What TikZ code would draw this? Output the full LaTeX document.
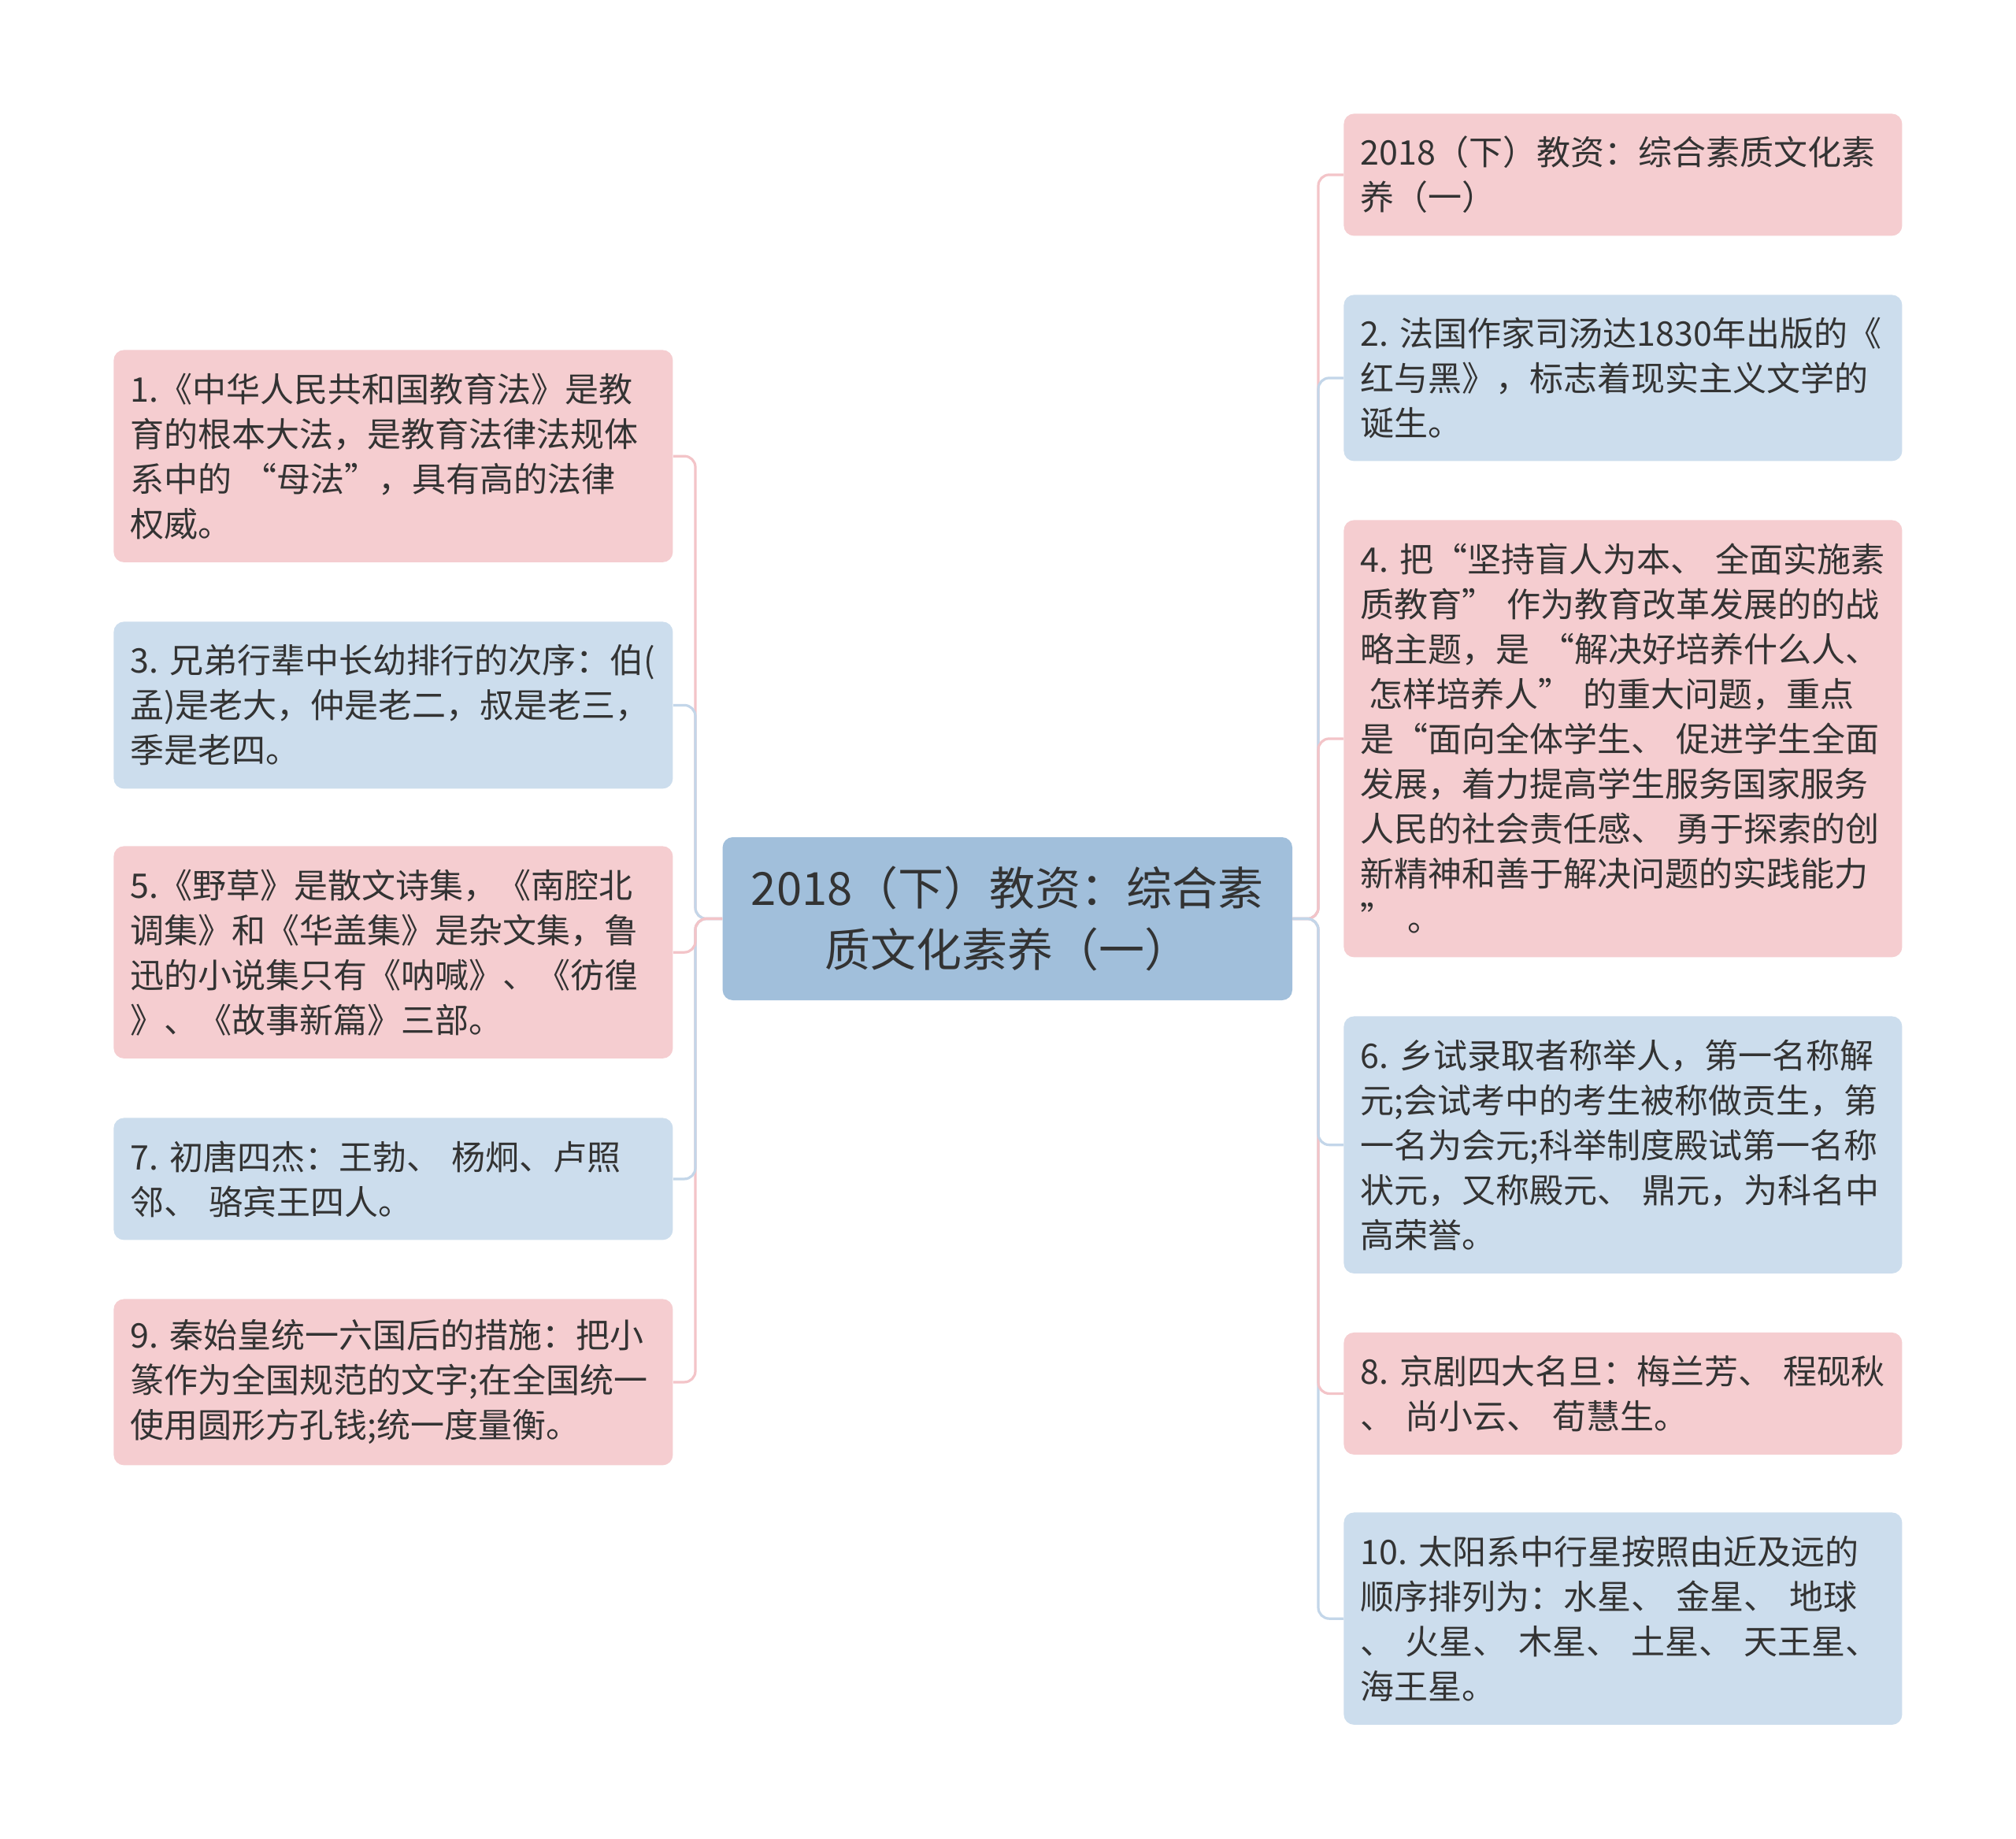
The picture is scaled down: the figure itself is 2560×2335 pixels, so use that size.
\documentclass[tikz,border=0pt]{standalone}
\usepackage{fontspec}
\newfontfamily\cjk{Noto Sans CJK SC}
\definecolor{pinkfill}{RGB}{245,205,208}
\definecolor{bluefill}{RGB}{204,221,237}
\definecolor{centerfill}{RGB}{161,191,219}
\definecolor{pinkline}{RGB}{243,196,200}
\definecolor{blueline}{RGB}{195,214,233}
\definecolor{txt}{RGB}{51,51,51}
\tikzset{
  leaf/.style={rectangle, rounded corners=6.5pt, anchor=north west, inner xsep=10.5pt, inner ysep=0pt,
    align=left, text=txt, font=\cjk\fontsize{21.5}{28.5}\selectfont},
  leftleaf/.style={leaf, text width=334pt},
  rightleaf/.style={leaf, text width=333.5pt},
  pinkleaf/.style={fill=pinkfill},
  blueleaf/.style={fill=bluefill},
  rootnode/.style={rectangle, rounded corners=6.5pt, fill=centerfill, text=txt, align=center,
    minimum width=361.7pt, minimum height=103.5pt, inner sep=0pt,
    font=\cjk\fontsize{29}{39}\selectfont},
  pinkconn/.style={draw=pinkline, line width=1.6pt, rounded corners=7pt},
  blueconn/.style={draw=blueline, line width=1.6pt, rounded corners=7pt}
}
\begin{document}
\begin{tikzpicture}[x=0.5pt,y=-0.5pt]
\useasboundingbox (0,0) rectangle (2560,2335);
\fill[white] (0,0) rectangle (2560,2335);

\node[rootnode] (c) at (1279.3,1166.5) {2018（下）教资：综合素\\质文化素养（一）};

\coordinate (tl) at (883,0);
\coordinate (tr) at (1674,0);

% left
\node[leftleaf,pinkleaf,minimum height=134.75pt] (l1) at (144,444) {1.《中华人民共和国教育法》是教\\育的根本大法，是教育法律法规体\\系中的~“母法”，具有高的法律\\权威。};
\node[leftleaf,blueleaf,minimum height=106pt] (l3) at (144,789) {3.~兄弟行辈中长幼排行的次序：伯(\\孟)是老大，仲是老二，叔是老三，\\季是老四。};
\node[leftleaf,pinkleaf,minimum height=134.75pt] (l5) at (144,1074) {5.《野草》是散文诗集，《南腔北\\调集》和《华盖集》是杂文集，鲁\\迅的小说集只有《呐喊》、《彷徨\\》、《故事新篇》三部。};
\node[leftleaf,blueleaf,minimum height=77.5pt] (l7) at (144,1419) {7.~初唐四杰：王勃、~杨炯、卢照\\邻、~骆宾王四人。};
\node[leftleaf,pinkleaf,minimum height=105.5pt] (l9) at (144,1649) {9.~秦始皇统一六国后的措施：把小\\篆作为全国规范的文字;在全国统一\\使用圆形方孔钱;统一度量衡。};

% right
\node[rightleaf,pinkleaf,minimum height=77.5pt] (r1) at (1706,144) {2018（下）教资：综合素质文化素\\养（一）};
\node[rightleaf,blueleaf,minimum height=105.5pt] (r2) at (1706,374) {2.~法国作家司汤达1830年出版的《\\红与黑》，标志着现实主义文学的\\诞生。};
\node[rightleaf,pinkleaf,minimum height=277.5pt] (r4) at (1706,660) {4.~把“坚持盲人为本、~全面实施素\\质教育”~作为教育改革发展的的战\\略主题，是~“解决好培养什么人、\\\hspace*{0.25em}怎样培养人”~的重大问题，重点\\是“面向全体学生、~促进学生全面\\发展，着力提高学生服务国家服务\\人民的社会责任感、~勇于探索的创\\新精神和善于解决问题的实践能力\\”\hspace{0.4em}。};
\node[rightleaf,blueleaf,minimum height=163.25pt] (r6) at (1706,1290) {6.~乡试录取者称举人，第一名称解\\元;会试考中的考生被称做贡生，第\\一名为会元;科举制度殿试第一名称\\状元，又称殿元、~鼎元，为科名中\\高荣誉。};
\node[rightleaf,pinkleaf,minimum height=77.5pt] (r8) at (1706,1691.5) {8.~京剧四大名旦：梅兰芳、~程砚秋\\、~尚小云、~荀慧生。};
\node[rightleaf,blueleaf,minimum height=134.75pt] (r10) at (1706,1920) {10.~太阳系中行星按照由近及远的\\顺序排列为：水星、~金星、~地球\\、~火星、~木星、~土星、~天王星、\\海王星。};

% connectors
\path[pinkconn] (c.west) -- (c.west -| tl) |- (l1.east);
\path[blueconn] (c.west) -- (c.west -| tl) |- (l3.east);
\path[pinkconn] (c.west) -- (c.west -| tl) |- (l9.east);
\path[blueconn] (c.west) -- (c.west -| tl) |- (l7.east);
\path[pinkconn] (c.west) -- (c.west -| tl) |- (l5.east);

\path[pinkconn] (c.east) -- (c.east -| tr) |- (r1.west);
\path[blueconn] (c.east) -- (c.east -| tr) |- (r2.west);
\path[pinkconn] (c.east) -- (c.east -| tr) |- (r4.west);
\path[blueconn] (c.east) -- (c.east -| tr) |- (r10.west);
\path[pinkconn] (c.east) -- (c.east -| tr) |- (r8.west);
\path[blueconn] (c.east) -- (c.east -| tr) |- (r6.west);
\end{tikzpicture}
\end{document}
